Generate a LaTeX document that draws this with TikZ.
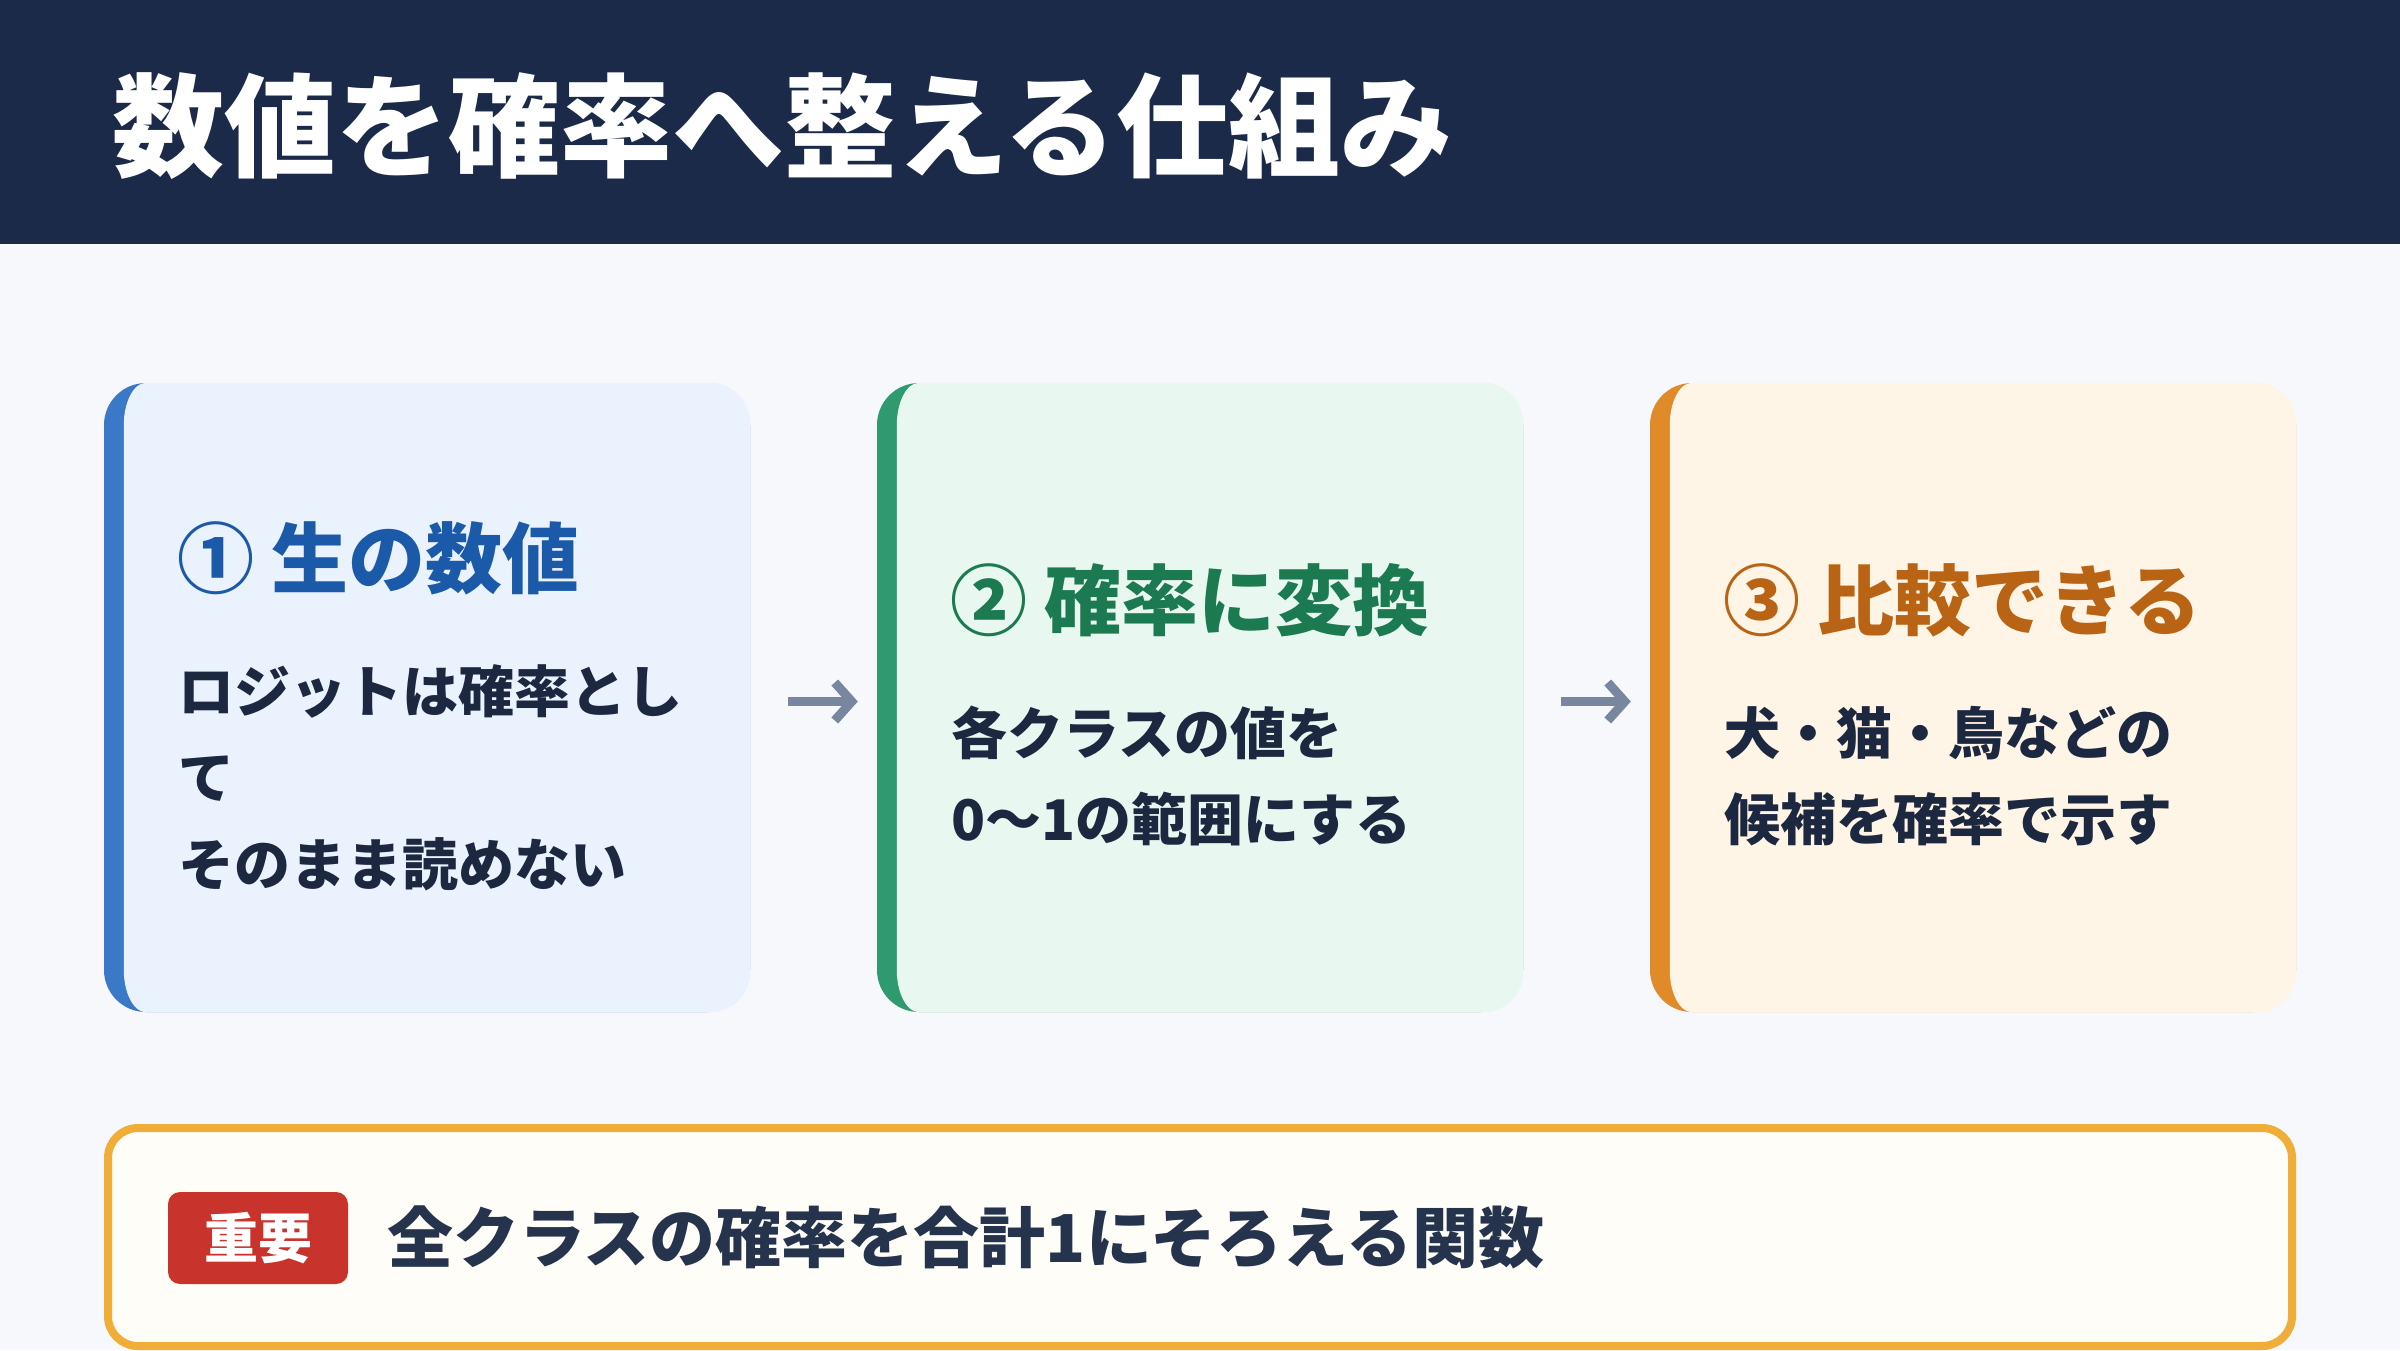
\documentclass[tikz,border=0pt]{standalone}
\usepackage{fontspec}
\setmainfont{Noto Sans CJK JP}
\usetikzlibrary{calc,arrows.meta}
\definecolor{bgc}{HTML}{F6F8FC}
\definecolor{hdrc}{HTML}{1C2A4A}
\definecolor{fillA}{HTML}{EAF2FE}
\definecolor{accA}{HTML}{3A78C8}
\definecolor{titA}{HTML}{1A5AA8}
\definecolor{fillB}{HTML}{E8F7EF}
\definecolor{accB}{HTML}{2E9A6E}
\definecolor{titB}{HTML}{1B7A50}
\definecolor{fillC}{HTML}{FFF5E6}
\definecolor{accC}{HTML}{E08A2A}
\definecolor{titC}{HTML}{B96414}
\definecolor{bodyc}{HTML}{1C2740}
\definecolor{arrc}{HTML}{7886A0}
\definecolor{boxline}{HTML}{F0AD38}
\definecolor{boxfill}{HTML}{FEFDF7}
\definecolor{badgec}{HTML}{C8342C}
\definecolor{maintxt}{HTML}{25334D}
\newcommand\innerfill[2]{%
 \fill[#2] ($(#1.north west)+(20,42)$) .. controls ($(#1.north west)+(20,19)$) and ($(#1.north west)+(30,0)$) .. ($(#1.north west)+(42,0)$)
 -- ($(#1.north east)+(-40,0)$) .. controls ($(#1.north east)+(-18,0)$) and ($(#1.north east)+(0,18)$) .. ($(#1.north east)+(0,40)$)
 -- ($(#1.south east)+(0,-40)$) .. controls ($(#1.south east)+(0,-18)$) and ($(#1.south east)+(-18,0)$) .. ($(#1.south east)+(-40,0)$)
 -- ($(#1.south west)+(42,0)$) .. controls ($(#1.south west)+(30,0)$) and ($(#1.south west)+(20,-19)$) .. ($(#1.south west)+(20,-42)$) -- cycle;}
\begin{document}
\begin{tikzpicture}[x=1pt,y=-1pt,
  cardbox/.style={rectangle, inner sep=0pt, minimum width=646pt, minimum height=629pt, rounded corners=42pt},
  cardtitle/.style={anchor=base west, inner sep=0pt, font=\bfseries\fontsize{77}{90}\selectfont},
  cardbody/.style={anchor=base west, inner sep=0pt, text=bodyc, font=\bfseries\fontsize{56}{66}\selectfont},
  flowarrow/.style={draw=arrc, line width=9pt, shorten <=38pt, shorten >=19pt, -{Straight Barb[length=17pt,width=38pt]}}
]
\useasboundingbox (0,0) rectangle (2400,1350);
\fill[bgc] (0,0) rectangle (2400,1350);
\fill[hdrc] (0,0) rectangle (2400,244);
\node[anchor=base west, inner sep=0pt, text=white, font=\bfseries\fontsize{112}{130}\selectfont] (title) at (112,168) {数値を確率へ整える仕組み};

% cards
\node[cardbox, fill=accA] (c1) at (427,697.5) {};
\node[cardbox, fill=accB] (c2) at (1200,697.5) {};
\node[cardbox, fill=accC] (c3) at (1973,697.5) {};
\innerfill{c1}{fillA}
\innerfill{c2}{fillB}
\innerfill{c3}{fillC}

\node[cardtitle, text=titA] (h1) at (177,587) {① 生の数値};
\node[cardbody] (b1a) at (178,712) {ロジットは確率とし};
\node[cardbody] (b1b) at (178,798) {て};
\node[cardbody] (b1c) at (178,885) {そのまま読めない};

\node[cardtitle, text=titB] (h2) at (950,629) {② 確率に変換};
\node[cardbody] (b2a) at (951,754) {各クラスの値を};
\node[cardbody] (b2b) at (951,840) {0〜1の範囲にする};

\node[cardtitle, text=titC] (h3) at (1723,629) {③ 比較できる};
\node[cardbody] (b3a) at (1724,754) {犬・猫・鳥などの};
\node[cardbody] (b3b) at (1724,840) {候補を確率で示す};

\draw[flowarrow] ([yshift=-4pt]c1.east) -- ([yshift=-4pt]c2.west);
\draw[flowarrow] ([yshift=-4pt]c2.east) -- ([yshift=-4pt]c3.west);

% important box
\node[rectangle, draw=boxline, line width=8pt, fill=boxfill, rounded corners=30pt, minimum width=2184pt, minimum height=218pt, inner sep=0pt] (imp) at (1200,1237) {};
\node[rectangle, fill=badgec, rounded corners=12pt, minimum width=180pt, minimum height=92pt, inner sep=0pt, text=white, font=\bfseries\fontsize{54}{60}\selectfont] (badge) at (258,1238) {重要};
\node[anchor=base west, inner sep=0pt, text=maintxt, font=\bfseries\fontsize{66}{76}\selectfont] (msg) at (387,1262) {全クラスの確率を合計1にそろえる関数};
\end{tikzpicture}
\end{document}
